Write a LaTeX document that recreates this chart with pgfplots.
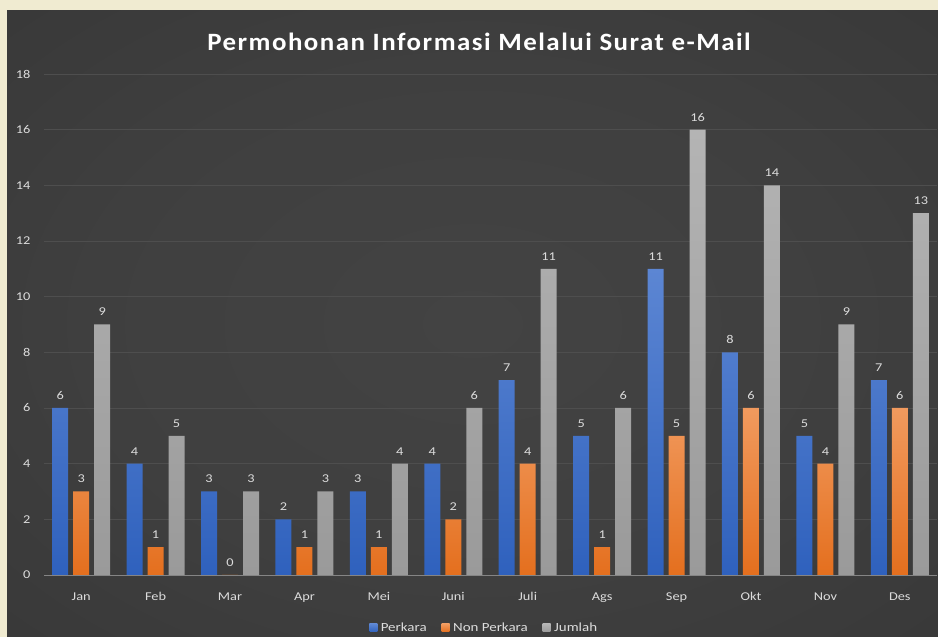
\documentclass[border=0pt]{standalone}
\usepackage{pgfplots}
\pgfplotsset{compat=1.18}
\usepackage{fontspec}
\setmainfont{Carlito}[FakeStretch=1.2]
\newfontfamily\titlefont{Carlito}[LetterSpace=6, FakeStretch=1.08]
\definecolor{beige}{HTML}{F0EBD1}
\definecolor{bgin}{HTML}{434343}
\definecolor{bgout}{HTML}{2A2A2A}
\definecolor{cbluet}{HTML}{5C86D3}
\definecolor{cblueb}{HTML}{2F61BD}
\definecolor{corat}{HTML}{F19A5E}
\definecolor{corab}{HTML}{E46F1E}
\definecolor{cgrayt}{HTML}{B4B4B4}
\definecolor{cgrayb}{HTML}{9A9A9A}
\definecolor{lbl}{HTML}{DCDCDC}
\definecolor{grid}{HTML}{4E4E4E}
\definecolor{axl}{HTML}{858585}
\pgfdeclareradialshading{bgshade}{\pgfpoint{0bp}{0bp}}{color(0bp)=(bgin); color(20bp)=(bgin!85!bgout); color(71bp)=(bgout)}
\begin{document}
\begin{tikzpicture}[x=1bp,y=1bp]
\fill[beige] (0,0) rectangle (938,637);
\shade[shading=bgshade] (7,0) rectangle (938,626);
\useasboundingbox (0,0) rectangle (938,637);
\node[text=white, font=\titlefont\bfseries\fontsize{25}{28}\selectfont] at (479,595) {Permohonan Informasi Melalui Surat e-Mail};
\begin{axis}[
  at={(44bp,62bp)}, anchor=south west,
  scale only axis, width=893bp, height=501bp,
  ybar=5bp, bar width=16bp,
  xmin=-0.5, xmax=11.5, ymin=0, ymax=18,
  xtick=data,
  xticklabels={Jan,Feb,Mar,Apr,Mei,Juni,Juli,Ags,Sep,Okt,Nov,Des},
  ytick={0,2,...,18},
  axis x line*=bottom,
  y axis line style={draw=none},
  x axis line style={draw=axl, line width=0.9bp},
  ymajorgrids, grid style={draw=grid, line width=0.8bp},
  major tick length=0pt,
  /pgf/number format/assume math mode=true,
  ticklabel style={font=\fontsize{12}{14}\selectfont, text=lbl},
  xticklabel style={yshift=-14bp},
  yticklabel style={xshift=-10bp},
  nodes near coords,
  every node near coord/.append style={font=\fontsize{12}{14}\selectfont, text=lbl, yshift=5bp},
  legend columns=3,
  legend style={at={(0.493,0)}, anchor=center, yshift=-53bp, draw=none, fill=none,
    text=lbl, font=\fontsize{12.5}{14}\selectfont,
    /tikz/every odd column/.append style={column sep=1.5bp},
    /tikz/every even column/.append style={column sep=13bp}},
  legend image code/.code={\fill[#1] (0bp,-4bp) rectangle (8bp,4bp);},
  clip=false,
]
\addplot[top color=cbluet, bottom color=cblueb, draw=none] coordinates {(0,6)(1,4)(2,3)(3,2)(4,3)(5,4)(6,7)(7,5)(8,11)(9,8)(10,5)(11,7)};
\addplot[top color=corat, bottom color=corab, draw=none] coordinates {(0,3)(1,1)(2,0)(3,1)(4,1)(5,2)(6,4)(7,1)(8,5)(9,6)(10,4)(11,6)};
\addplot[top color=cgrayt, bottom color=cgrayb, draw=none] coordinates {(0,9)(1,5)(2,3)(3,3)(4,4)(5,6)(6,11)(7,6)(8,16)(9,14)(10,9)(11,13)};
\legend{Perkara,Non Perkara,Jumlah}
\end{axis}
\end{tikzpicture}
\end{document}
